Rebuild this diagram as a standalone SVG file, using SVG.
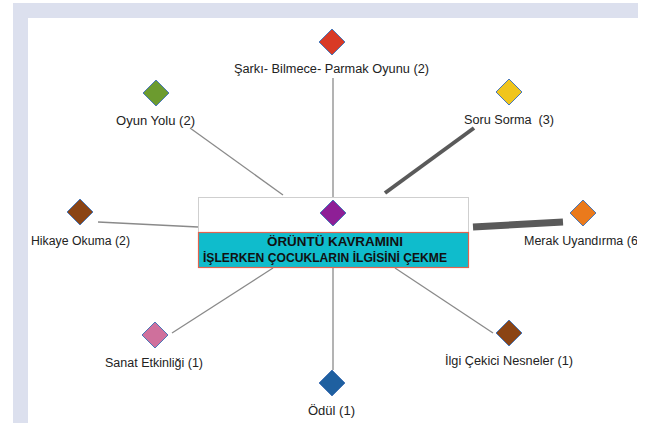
<svg xmlns="http://www.w3.org/2000/svg" width="654" height="423" viewBox="0 0 654 423">
<style>
.lbl{font-family:"Liberation Sans","Open Sans",Arial,sans-serif;font-size:12px;fill:#222;text-anchor:middle}
.ttl{font-family:"Liberation Sans","Open Sans",Arial,sans-serif;font-size:12px;font-weight:bold;fill:#111;text-anchor:middle}
.dia{stroke:#4A78B8;stroke-width:1}
.con{stroke:#8a8a8a;stroke-width:1.3;fill:none}
.thick{stroke:#5a5a5a;fill:none}
</style>
<defs>
<clipPath id="pg"><rect x="0" y="0" width="637" height="423"/></clipPath>
<path id="d" d="M0,-13 L13,0 L0,13 L-13,0 Z"/>
</defs>
<rect width="654" height="423" fill="#fff"/>
<rect x="13" y="3" width="625" height="15" fill="#DCE0EE"/>
<rect x="13" y="3" width="15" height="420" fill="#DCE0EE"/>
<g id="connectors">
<line class="con" x1="333" y1="78" x2="333" y2="197"/>
<line class="con" x1="190" y1="128" x2="283" y2="195"/>
<line class="thick" stroke-width="4" x1="474" y1="128" x2="385" y2="193"/>
<line class="con" x1="98" y1="222" x2="198" y2="227"/>
<line class="thick" stroke-width="7" x1="473" y1="227" x2="563" y2="222"/>
<line class="con" x1="172" y1="333" x2="273" y2="268"/>
<line class="con" x1="333" y1="268" x2="333" y2="370"/>
<line class="con" x1="493" y1="333" x2="395" y2="268"/>
</g>
<g id="center">
<rect x="198.5" y="197.5" width="270" height="35" fill="#fff" stroke="#cfcfcf" stroke-width="1"/>
<rect x="198.5" y="232.5" width="270" height="35" fill="#0FBCCC" stroke="#E2644F" stroke-width="1.2"/>
<use href="#d" x="333" y="213" fill="#8E1F96" class="dia"/>
<text class="ttl" x="335" y="246" textLength="136" lengthAdjust="spacingAndGlyphs">ÖRÜNTÜ KAVRAMINI</text>
<text class="ttl" x="325" y="262" textLength="244" lengthAdjust="spacingAndGlyphs">İŞLERKEN ÇOCUKLARIN İLGİSİNİ ÇEKME</text>
</g>
<g id="sarki">
<use href="#d" x="332" y="42" fill="#D83A26" class="dia"/>
<text class="lbl" x="331.5" y="73" textLength="195" lengthAdjust="spacingAndGlyphs">Şarkı- Bilmece- Parmak Oyunu (2)</text>
</g>
<g id="oyun-yolu">
<use href="#d" x="156" y="93" fill="#6C9B2F" class="dia"/>
<text class="lbl" x="155.5" y="125" textLength="79" lengthAdjust="spacingAndGlyphs">Oyun Yolu (2)</text>
</g>
<g id="soru-sorma">
<use href="#d" x="509" y="92" fill="#F0C51C" class="dia"/>
<text class="lbl" x="509" y="124" textLength="90" lengthAdjust="spacingAndGlyphs" xml:space="preserve">Soru Sorma  (3)</text>
</g>
<g id="hikaye">
<use href="#d" x="80" y="212" fill="#8B4414" class="dia"/>
<text class="lbl" x="80.5" y="245" textLength="99" lengthAdjust="spacingAndGlyphs">Hikaye Okuma (2)</text>
</g>
<g id="merak" clip-path="url(#pg)">
<use href="#d" x="583" y="213" fill="#EA7A1C" class="dia"/>
<text class="lbl" x="583" y="245" textLength="118" lengthAdjust="spacingAndGlyphs">Merak Uyandırma (6)</text>
</g>
<g id="sanat">
<use href="#d" x="155" y="335" fill="#CF709C" class="dia"/>
<text class="lbl" x="154" y="367" textLength="98" lengthAdjust="spacingAndGlyphs">Sanat Etkinliği (1)</text>
</g>
<g id="odul">
<use href="#d" x="332" y="383" fill="#1F60A0" class="dia"/>
<text class="lbl" x="331.5" y="415" textLength="47" lengthAdjust="spacingAndGlyphs">Ödül (1)</text>
</g>
<g id="ilgi">
<use href="#d" x="509" y="333" fill="#8B4414" class="dia"/>
<text class="lbl" x="509" y="365" textLength="128" lengthAdjust="spacingAndGlyphs">İlgi Çekici Nesneler (1)</text>
</g>
</svg>
